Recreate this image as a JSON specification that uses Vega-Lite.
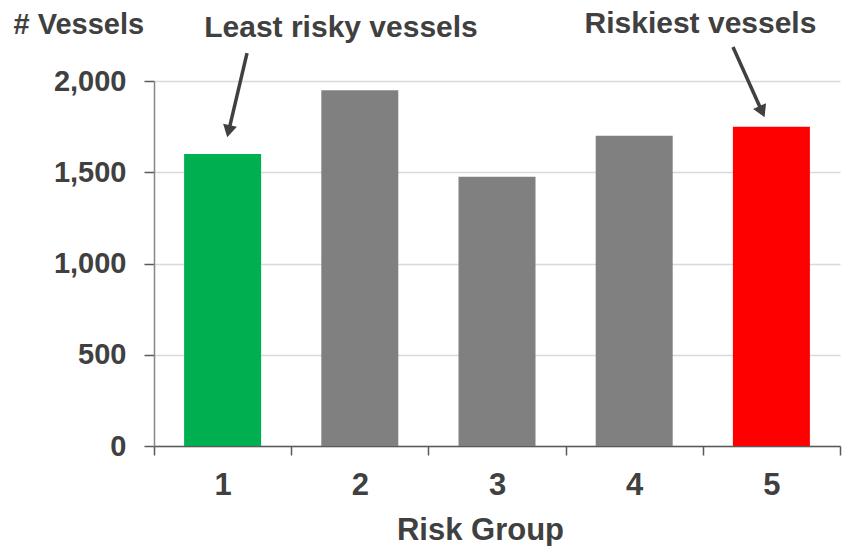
{
  "$schema": "https://vega.github.io/schema/vega-lite/v6.json",
  "width": 686,
  "height": 365,
  "autosize": {"type": "none"},
  "padding": {"left": 154, "top": 81, "right": 8, "bottom": 100},
  "background": "white",
  "config": {
    "view": {"stroke": null},
    "font": "Liberation Sans"
  },
  "data": {
    "values": [
      {"group": 1, "vessels": 1600},
      {"group": 2, "vessels": 1950},
      {"group": 3, "vessels": 1475},
      {"group": 4, "vessels": 1700},
      {"group": 5, "vessels": 1750}
    ]
  },
  "layer": [
    {
      "mark": {"type": "bar", "size": 77},
      "encoding": {
        "x": {
          "field": "group",
          "type": "quantitative",
          "scale": {"domain": [0.5, 5.5], "nice": false, "zero": false, "padding": 0},
          "axis": {
            "title": "Risk Group",
            "values": [0.5, 1, 1.5, 2, 2.5, 3, 3.5, 4, 4.5, 5, 5.5],
            "labelExpr": "datum.value % 1 === 0 ? format(datum.value, 'd') : ''",
            "labelOverlap": false,
            "labelFlush": false,
            "grid": false,
            "domainColor": "#595959",
            "domainWidth": 1.5,
            "tickColor": "#595959",
            "tickWidth": 1.5,
            "tickSize": 9,
            "tickOpacity": {"condition": {"test": "datum.value % 1 === 0", "value": 0}, "value": 1},
            "labelFont": "Liberation Sans",
            "labelFontSize": 31,
            "labelFontWeight": "bold",
            "labelColor": "#404040",
            "labelPadding": 15,
            "titleFont": "Liberation Sans",
            "titleFontSize": 31,
            "titleFontWeight": "bold",
            "titleColor": "#404040",
            "titleX": 326,
            "titleY": 93,
            "titleBaseline": "alphabetic",
            "titleAlign": "center"
          }
        },
        "y": {
          "field": "vessels",
          "type": "quantitative",
          "scale": {"domain": [0, 2000], "nice": false},
          "axis": {
            "title": "# Vessels",
            "values": [0, 500, 1000, 1500, 2000],
            "format": ",.0f",
            "grid": true,
            "gridColor": "#d9d9d9",
            "gridWidth": 1.5,
            "domainColor": "#868686",
            "domainWidth": 1.5,
            "tickColor": "#595959",
            "tickWidth": 1.5,
            "tickSize": 10,
            "labelFont": "Liberation Sans",
            "labelFontSize": 29,
            "labelFontWeight": "bold",
            "labelColor": "#404040",
            "labelPadding": 18,
            "titleFont": "Liberation Sans",
            "titleFontSize": 29,
            "titleFontWeight": "bold",
            "titleColor": "#404040",
            "titleAngle": 0,
            "titleAlign": "left",
            "titleBaseline": "alphabetic",
            "titleX": -141,
            "titleY": -48
          }
        },
        "color": {
          "field": "group",
          "type": "ordinal",
          "scale": {
            "domain": [1, 2, 3, 4, 5],
            "range": ["#00B050", "#808080", "#808080", "#808080", "#FF0000"]
          },
          "legend": null
        }
      }
    },
    {
      "data": {"values": [{}]},
      "mark": {"type": "rule", "color": "#404040", "strokeWidth": 3.5, "clip": false},
      "encoding": {
        "x": {"datum": 1.178, "type": "quantitative"},
        "y": {"datum": 2153, "type": "quantitative"},
        "x2": {"datum": 1.044},
        "y2": {"datum": 1725}
      }
    },
    {
      "data": {"values": [{}]},
      "mark": {"type": "point", "shape": "triangle-down", "filled": true, "opacity": 1, "color": "#404040", "size": 200, "angle": 13, "clip": false},
      "encoding": {
        "x": {"datum": 1.044, "type": "quantitative"},
        "y": {"datum": 1725, "type": "quantitative"}
      }
    },
    {
      "data": {"values": [{}]},
      "mark": {"type": "rule", "color": "#404040", "strokeWidth": 3.5, "clip": false},
      "encoding": {
        "x": {"datum": 4.72, "type": "quantitative"},
        "y": {"datum": 2186, "type": "quantitative"},
        "x2": {"datum": 4.932},
        "y2": {"datum": 1832}
      }
    },
    {
      "data": {"values": [{}]},
      "mark": {"type": "point", "shape": "triangle-down", "filled": true, "opacity": 1, "color": "#404040", "size": 200, "angle": -24, "clip": false},
      "encoding": {
        "x": {"datum": 4.932, "type": "quantitative"},
        "y": {"datum": 1832, "type": "quantitative"}
      }
    },
    {
      "data": {"values": [{}]},
      "mark": {"type": "text", "text": "Least risky vessels", "font": "Liberation Sans", "fontSize": 30, "fontWeight": "bold", "color": "#404040", "align": "center", "baseline": "alphabetic", "clip": false},
      "encoding": {
        "x": {"datum": 1.863, "type": "quantitative"},
        "y": {"datum": 2241, "type": "quantitative"}
      }
    },
    {
      "data": {"values": [{}]},
      "mark": {"type": "text", "text": "Riskiest vessels", "font": "Liberation Sans", "fontSize": 30, "fontWeight": "bold", "color": "#404040", "align": "center", "baseline": "alphabetic", "clip": false},
      "encoding": {
        "x": {"datum": 4.483, "type": "quantitative"},
        "y": {"datum": 2263, "type": "quantitative"}
      }
    }
  ]
}
